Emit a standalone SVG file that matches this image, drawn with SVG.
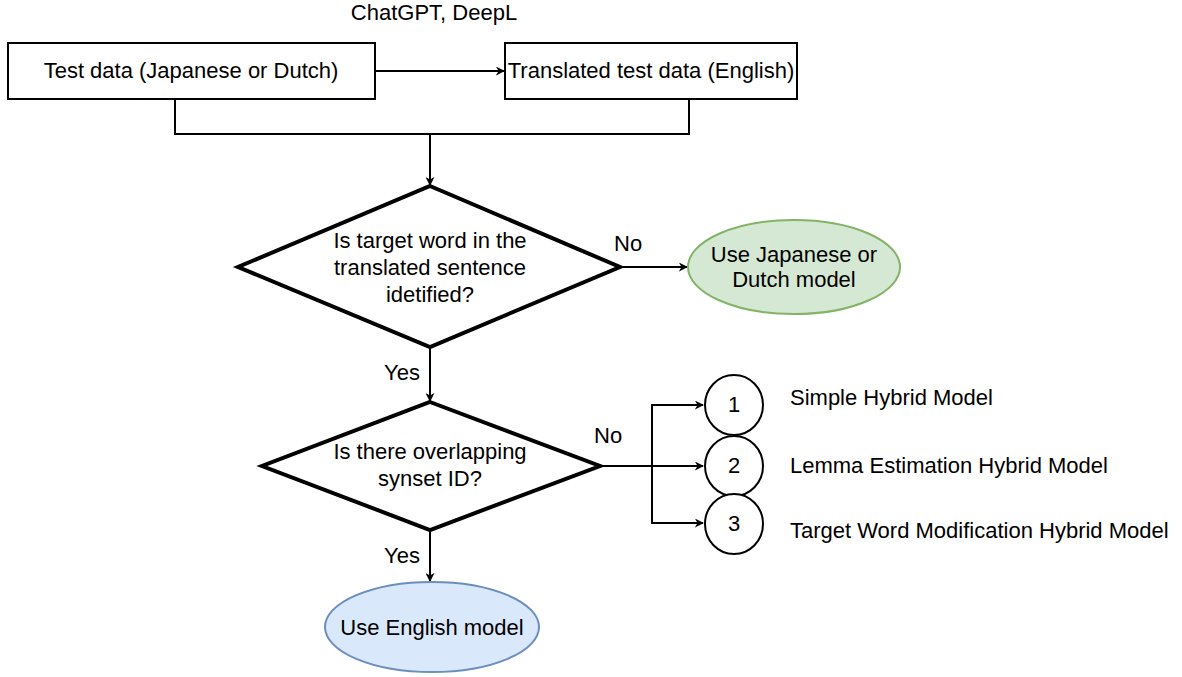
<svg xmlns="http://www.w3.org/2000/svg" width="1182" height="677" viewBox="0 0 1182 677">
<defs>
<style>
text{font-family:"Liberation Sans",Arial,sans-serif;font-size:22px;fill:#000;}
.c{text-anchor:middle;}
.box{fill:#fff;stroke:#000;stroke-width:2;}
.dia{fill:#fff;stroke:#000;stroke-width:4;stroke-linejoin:miter;}
.ln{fill:none;stroke:#000;stroke-width:2;}
</style>
<marker id="ah" viewBox="0 0 10 10" refX="9" refY="5" markerWidth="9" markerHeight="9" markerUnits="userSpaceOnUse" orient="auto">
<path d="M0,0 L10,5 L0,10 L3,5 Z" fill="#000"/>
</marker>
</defs>
<rect width="1182" height="677" fill="#fff"/>
<text class="c" x="434" y="20">ChatGPT, DeepL</text>
<g id="connectors">
<path class="ln" d="M375,71 L504,71" marker-end="url(#ah)"/>
<path class="ln" d="M175,99 L175,134 L689,134 L689,99"/>
<path class="ln" d="M430,134 L430,185" marker-end="url(#ah)"/>
<path class="ln" d="M620,267 L687,267" marker-end="url(#ah)"/>
<path class="ln" d="M430,347 L430,401" marker-end="url(#ah)"/>
<path class="ln" d="M600,466 L703,466" marker-end="url(#ah)"/>
<path class="ln" d="M652,466 L652,405 L703,405" marker-end="url(#ah)"/>
<path class="ln" d="M652,466 L652,523 L703,523" marker-end="url(#ah)"/>
<path class="ln" d="M430,530 L430,581" marker-end="url(#ah)"/>
<text x="614" y="251">No</text>
<text x="384" y="380">Yes</text>
<text x="594" y="443">No</text>
<text x="384" y="563">Yes</text>
</g>
<g id="test-data">
<rect class="box" x="8" y="43" width="367" height="56"/>
<text class="c" x="191" y="78">Test data (Japanese or Dutch)</text>
</g>
<g id="translated-data">
<rect class="box" x="505" y="43" width="292" height="56"/>
<text class="c" x="651" y="78">Translated test data (English)</text>
</g>
<g id="decision-1">
<polygon class="dia" points="430,186 620,267 430,347 238,267"/>
<text class="c" x="430" y="248">Is target word in the</text>
<text class="c" x="430" y="275">translated sentence</text>
<text class="c" x="430" y="302">idetified?</text>
</g>
<g id="jp-nl-model">
<ellipse cx="794" cy="267" rx="106" ry="47" fill="#d5e8d4" stroke="#82b366" stroke-width="2"/>
<text class="c" x="794" y="262">Use Japanese or</text>
<text class="c" x="794" y="287">Dutch model</text>
</g>
<g id="decision-2">
<polygon class="dia" points="430,402 600,466 430,530 262,466"/>
<text class="c" x="430" y="459">Is there overlapping</text>
<text class="c" x="430" y="486">synset ID?</text>
</g>
<g id="model-1">
<ellipse cx="734" cy="405" rx="29" ry="30" class="box"/>
<text class="c" x="734" y="412">1</text>
<text x="790" y="405">Simple Hybrid Model</text>
</g>
<g id="model-2">
<ellipse cx="734" cy="466" rx="29" ry="30" class="box"/>
<text class="c" x="734" y="473">2</text>
<text x="790" y="473">Lemma Estimation Hybrid Model</text>
</g>
<g id="model-3">
<ellipse cx="734" cy="524" rx="29" ry="30" class="box"/>
<text class="c" x="734" y="531">3</text>
<text x="790" y="538">Target Word Modification Hybrid Model</text>
</g>
<g id="en-model">
<ellipse cx="432" cy="627" rx="107" ry="45" fill="#dae8fc" stroke="#6c8ebf" stroke-width="2"/>
<text class="c" x="432" y="635">Use English model</text>
</g>
</svg>
